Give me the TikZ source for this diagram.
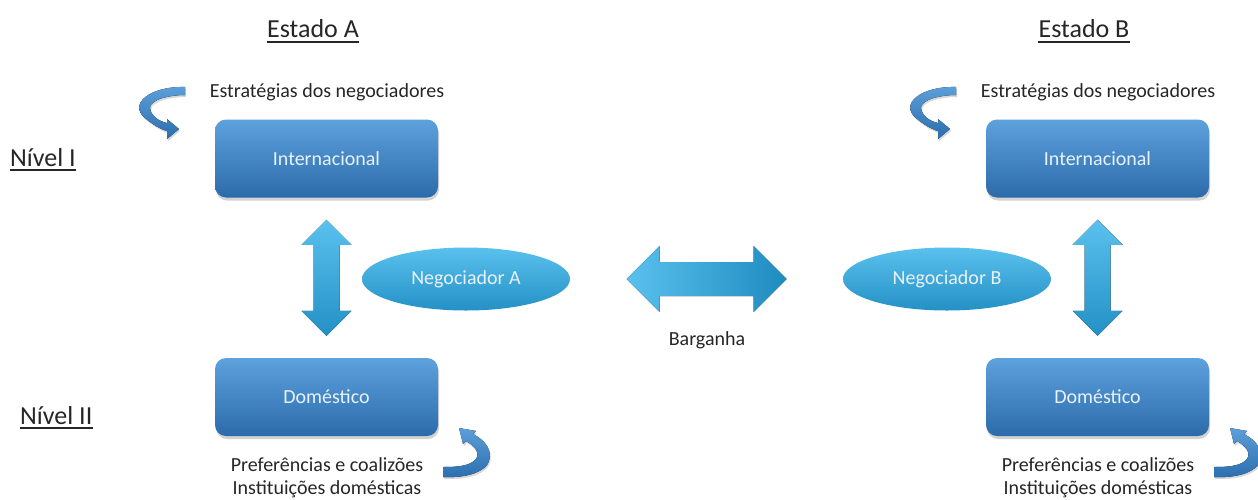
\documentclass[tikz,border=0pt]{standalone}
\usepackage{fontspec}
\setmainfont{Carlito}
\usetikzlibrary{shadows,shapes.geometric,calc}
\definecolor{boxtop}{HTML}{5DA1DD}
\definecolor{boxbot}{HTML}{2C6BAA}
\definecolor{cyantop}{HTML}{5AC1EE}
\definecolor{cyanbot}{HTML}{2490C5}
\definecolor{harrowR}{HTML}{1E8BBF}
\definecolor{curvedark}{HTML}{2A6EAE}
\definecolor{curvelight}{HTML}{5C9FD9}
\definecolor{txt}{HTML}{262626}
\definecolor{boxtxt}{HTML}{E9F1F9}
\tikzset{
  curvtop/.pic={
    \fill[curvefill] (25,-25) .. controls (-10,-26) and (-32,-8) .. (-15,6)
      .. controls (-8,12) and (0,17) .. (7,19) -- (7,27) -- (19,17) -- (7,7) -- (7,11)
      .. controls (-2,9) and (-10,3) .. (-10,-5)
      .. controls (-8,-13) and (10,-17) .. (25,-17) -- cycle;
  },
  curvbot/.pic={
    \fill[curvefill] (-27,12) -- (-27,22) .. controls (-8,23) and (10,19) .. (17,10)
      .. controls (25,-3) and (15,-15) .. (3,-21) -- (6,-24) -- (-11,-27) -- (-7,-11) -- (-4,-14)
      .. controls (5,-9) and (10,-2) .. (6,4)
      .. controls (0,11) and (-12,12) .. (-27,12) -- cycle;
  }
}
\begin{document}
\begin{tikzpicture}[x=1pt,y=-1pt,
  every node/.style={font=\fontsize{20}{23}\selectfont, text=txt},
  level/.style={rounded corners=11pt, minimum width=223pt, minimum height=78pt,
    top color=boxtop, bottom color=boxbot, text=boxtxt,
    drop shadow={opacity=0.35, shadow xshift=1pt, shadow yshift=-3pt}},
  nego/.style={ellipse, minimum width=208pt, minimum height=63pt, inner sep=0pt,
    top color=cyantop, bottom color=cyanbot, text=boxtxt},
  titletext/.style={font=\fontsize{26}{30}\selectfont, inner sep=0pt},
  ul/.style={line width=1.4pt, draw=txt},
  curvefill/.style={top color=curvelight, bottom color=curvedark,
    drop shadow={opacity=0.3, shadow xshift=1pt, shadow yshift=-2pt}},
  varrow/.style={top color=cyantop, bottom color=cyanbot},
  harrow/.style={left color=cyantop, right color=harrowR}
]
\useasboundingbox (0,0) rectangle (1258,499);
\fill[white] (0,0) rectangle (1258,499);
\clip (0,0) rectangle (1258,499);

% titles
\node[titletext, anchor=base] (ea) at (313,37) {Estado A};
\draw[ul] ([yshift=-5pt]ea.base west) -- ([yshift=-5pt]ea.base east);
\node[titletext, anchor=base] (eb) at (1084,37) {Estado B};
\draw[ul] ([yshift=-5pt]eb.base west) -- ([yshift=-5pt]eb.base east);
\node[titletext, anchor=base west] (n1) at (10,166) {Nível I};
\draw[ul] ([yshift=-4pt]n1.base west) -- ([yshift=-4pt]n1.base east);
\node[titletext, anchor=base west] (n2) at (20,424) {Nível II};
\draw[ul] ([yshift=-4pt]n2.base west) -- ([yshift=-4pt]n2.base east);

% boxes
\node[level] (ia) at (326.5,158.5) {Internacional};
\node[level] (da) at (326.5,397) {Doméstico};
\node[level] (ib) at (1097.5,158.5) {Internacional};
\node[level] (db) at (1097.5,397) {Doméstico};

% negotiators
\node[nego] (na) at (466,279) {Negociador A};
\node[nego] (nb) at (947,279) {Negociador B};

% labels
\node (sa) at (327,92) {Estratégias dos negociadores};
\node (sb) at (1098,92) {Estratégias dos negociadores};
\node[align=center] (pa) at (327,478) {Preferências e coalizões\\Instituições domésticas};
\node[align=center] (pb) at (1098,478) {Preferências e coalizões\\Instituições domésticas};
\node (bg) at (707,340) {Barganha};

% vertical double arrows
\coordinate (va) at ($(ia.south)!0.5!(da.north)$);
\coordinate (vb) at ($(ib.south)!0.5!(db.north)$);
\foreach \c in {va,vb}{
  \fill[varrow] (\c) +(0,-58) -- +(25,-33) -- +(13,-33) -- +(13,33) -- +(25,33)
    -- +(0,58) -- +(-25,33) -- +(-13,33) -- +(-13,-33) -- +(-25,-33) -- cycle;
}
% horizontal double arrow
\coordinate (hb) at ($(na.east)!0.5!(nb.west)$);
\fill[harrow] (hb) +(-80,0) -- +(-47,-33) -- +(-47,-17) -- +(47,-17) -- +(47,-33)
  -- +(80,0) -- +(47,33) -- +(47,17) -- +(-47,17) -- +(-47,33) -- cycle;

% curved arrows
\pic at (160,112) {curvtop};
\pic at (931,112) {curvtop};
\pic at (470,455) {curvbot};
\pic at (1241,455) {curvbot};
\end{tikzpicture}
\end{document}
